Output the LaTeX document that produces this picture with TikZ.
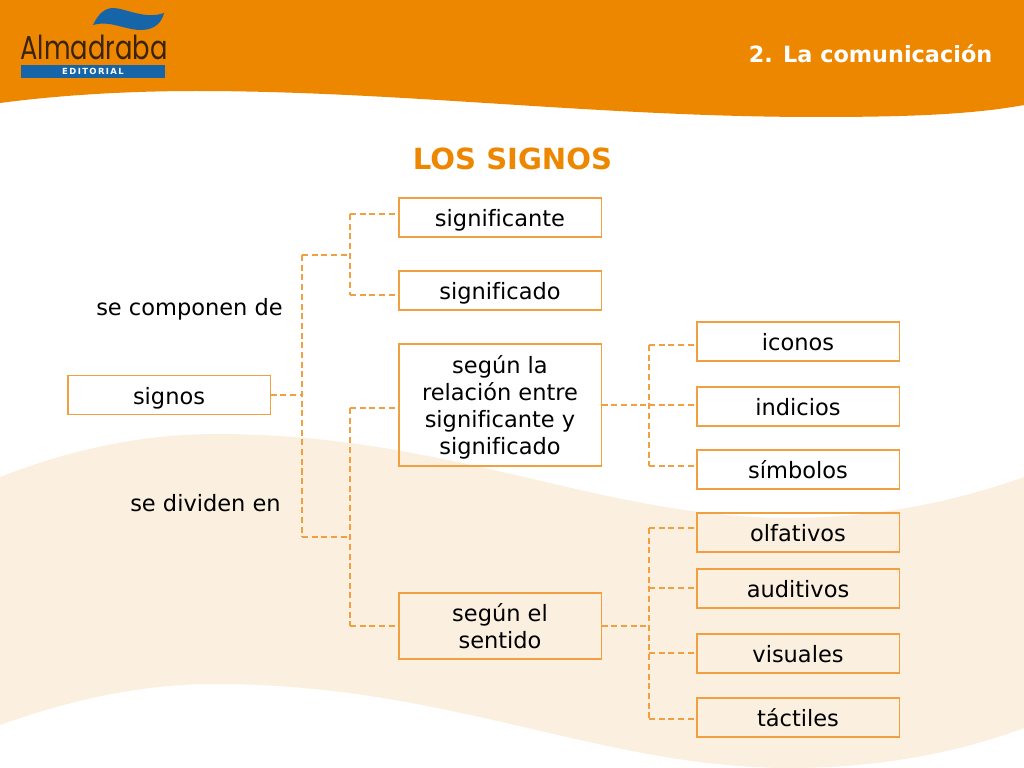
\documentclass[tikz,border=0pt]{standalone}
\usepackage{fontspec}
\setmainfont{DejaVu Sans}[Ligatures=NoCommon]
\newfontfamily\logofont{Poppins}[FakeStretch=0.78]
\definecolor{bandorange}{HTML}{EE8700}
\definecolor{creamband}{HTML}{FBEFE0}
\definecolor{boxorange}{HTML}{F0A040}
\definecolor{logoblue}{HTML}{1565A8}
\definecolor{logobrown}{HTML}{3A2410}
\tikzset{
  boxnode/.style={draw=boxorange, line width=0.75pt, minimum width=5.05cm, inner sep=0pt, align=center, text=black, font=\fontsize{16}{19.2}\selectfont},
  wordbox/.style={boxnode, minimum height=0.975cm, text height=17.4pt, text depth=4pt},
  plaintext/.style={text=black, inner sep=0pt, text height=12pt, text depth=4pt, font=\fontsize{16}{19.2}\selectfont},
  linkline/.style={draw=boxorange, line width=0.75pt, dash pattern=on 4.3pt off 2.6pt}
}
\begin{document}
\begin{tikzpicture}[x=0.025cm,y=-0.025cm]
\useasboundingbox (0,0) rectangle (1024,768);

\fill[white] (0,0) rectangle (1024,768);
\fill[bandorange] (0,0) -- (0,103) .. controls (60,95) and (130,91) .. (196,91) .. controls (400,91) and (600,117) .. (817,117) .. controls (900,117) and (970,115) .. (1024,105) -- (1024,0) -- cycle;
\fill[creamband] (0,477) .. controls (70,450) and (140,434) .. (217,434) .. controls (450,434) and (600,518) .. (790,518) .. controls (880,518) and (960,500) .. (1024,477) -- (1024,728) .. controls (960,752) and (880,768) .. (790,768) .. controls (600,768) and (450,684) .. (215,684) .. controls (140,684) and (70,700) .. (0,725) -- cycle;

% logo
\fill[logoblue] (93,25) .. controls (98,14) and (105,8) .. (113,8) .. controls (125,8) and (145,20) .. (164,13) .. controls (162,22) and (155,30) .. (141,30) .. controls (125,30) and (110,20) .. (93,25) -- cycle;
\node[text=logobrown, inner sep=0pt, font=\logofont\fontsize{23.5}{24}\selectfont] (logoname) at (94,47) {Almadraba};
\node[fill=logoblue, text=white, inner sep=0pt, minimum width=3.6cm, minimum height=0.33cm, font=\fontsize{6}{7}\bfseries\selectfont] (logobar) at (93,71.5) {E\,D\,I\,T\,O\,R\,I\,A\,L};

\node[text=white, inner sep=0pt, font=\fontsize{15.9}{19.2}\bfseries\selectfont] (section) at (870.5,54) {2. La comunicación};
\node[text=bandorange, inner sep=0pt, font=\fontsize{20.7}{24}\bfseries\selectfont] (title) at (512.5,159) {LOS SIGNOS};

\node[wordbox] (signos) at (169,395) {signos};
\node[wordbox] (significante) at (500,217.5) {significante};
\node[wordbox] (significado) at (500,290.5) {significado};
\node[boxnode, minimum height=3.05cm] (relacion) at (500,405) {\rule{0pt}{16pt}según la\\relación entre\\significante y\\significado};
\node[boxnode, minimum height=1.65cm] (sentido) at (500,626) {\rule{0pt}{13.6pt}según el\\sentido};
\node[wordbox] (iconos) at (798,341.5) {iconos};
\node[wordbox] (indicios) at (798,406.5) {indicios};
\node[wordbox] (simbolos) at (798,469.5) {símbolos};
\node[wordbox] (olfativos) at (798,532.5) {olfativos};
\node[wordbox] (auditivos) at (798,588.5) {auditivos};
\node[wordbox] (visuales) at (798,653.5) {visuales};
\node[wordbox] (tactiles) at (798,717.5) {táctiles};

\node[plaintext] (componen) at (189.5,309.5) {se componen de};
\node[plaintext] (dividen) at (205.5,505.5) {se dividen en};

\coordinate (t0) at (302,395);
\coordinate (t1) at (302,255);
\coordinate (t2) at (302,537);
\coordinate (u1) at (350,255);
\coordinate (u2) at (350,537);
\coordinate (a1) at (350,214);
\coordinate (a2) at (350,295);
\coordinate (b1) at (350,408);
\coordinate (b2) at (350,626);
\coordinate (c0) at (649,405);
\coordinate (c1) at (649,345);
\coordinate (c2) at (649,466);
\coordinate (d0) at (649,626);
\coordinate (d1) at (649,528);
\coordinate (d2) at (649,588);
\coordinate (d3) at (649,653);
\coordinate (d4) at (649,719);

\draw[linkline] (signos.east) -- (t0);
\draw[linkline] (t1) -- (t2);
\draw[linkline] (t1) -- (u1);
\draw[linkline] (t2) -- (u2);

\draw[linkline] (a1) -- (a2);
\draw[linkline] (a1) -- (a1 -| significante.west);
\draw[linkline] (a2) -- (a2 -| significado.west);

\draw[linkline] (b1) -- (b2);
\draw[linkline] (b1) -- (b1 -| relacion.west);
\draw[linkline] (b2) -- (sentido.west);

\draw[linkline] (relacion.east) -- (c0);
\draw[linkline] (c1) -- (c2);
\draw[linkline] (c1) -- (c1 -| iconos.west);
\draw[linkline] (c0) -- (c0 -| indicios.west);
\draw[linkline] (c2) -- (c2 -| simbolos.west);

\draw[linkline] (sentido.east) -- (d0);
\draw[linkline] (d1) -- (d4);
\draw[linkline] (d1) -- (d1 -| olfativos.west);
\draw[linkline] (d2) -- (d2 -| auditivos.west);
\draw[linkline] (d3) -- (d3 -| visuales.west);
\draw[linkline] (d4) -- (d4 -| tactiles.west);

\end{tikzpicture}
\end{document}
